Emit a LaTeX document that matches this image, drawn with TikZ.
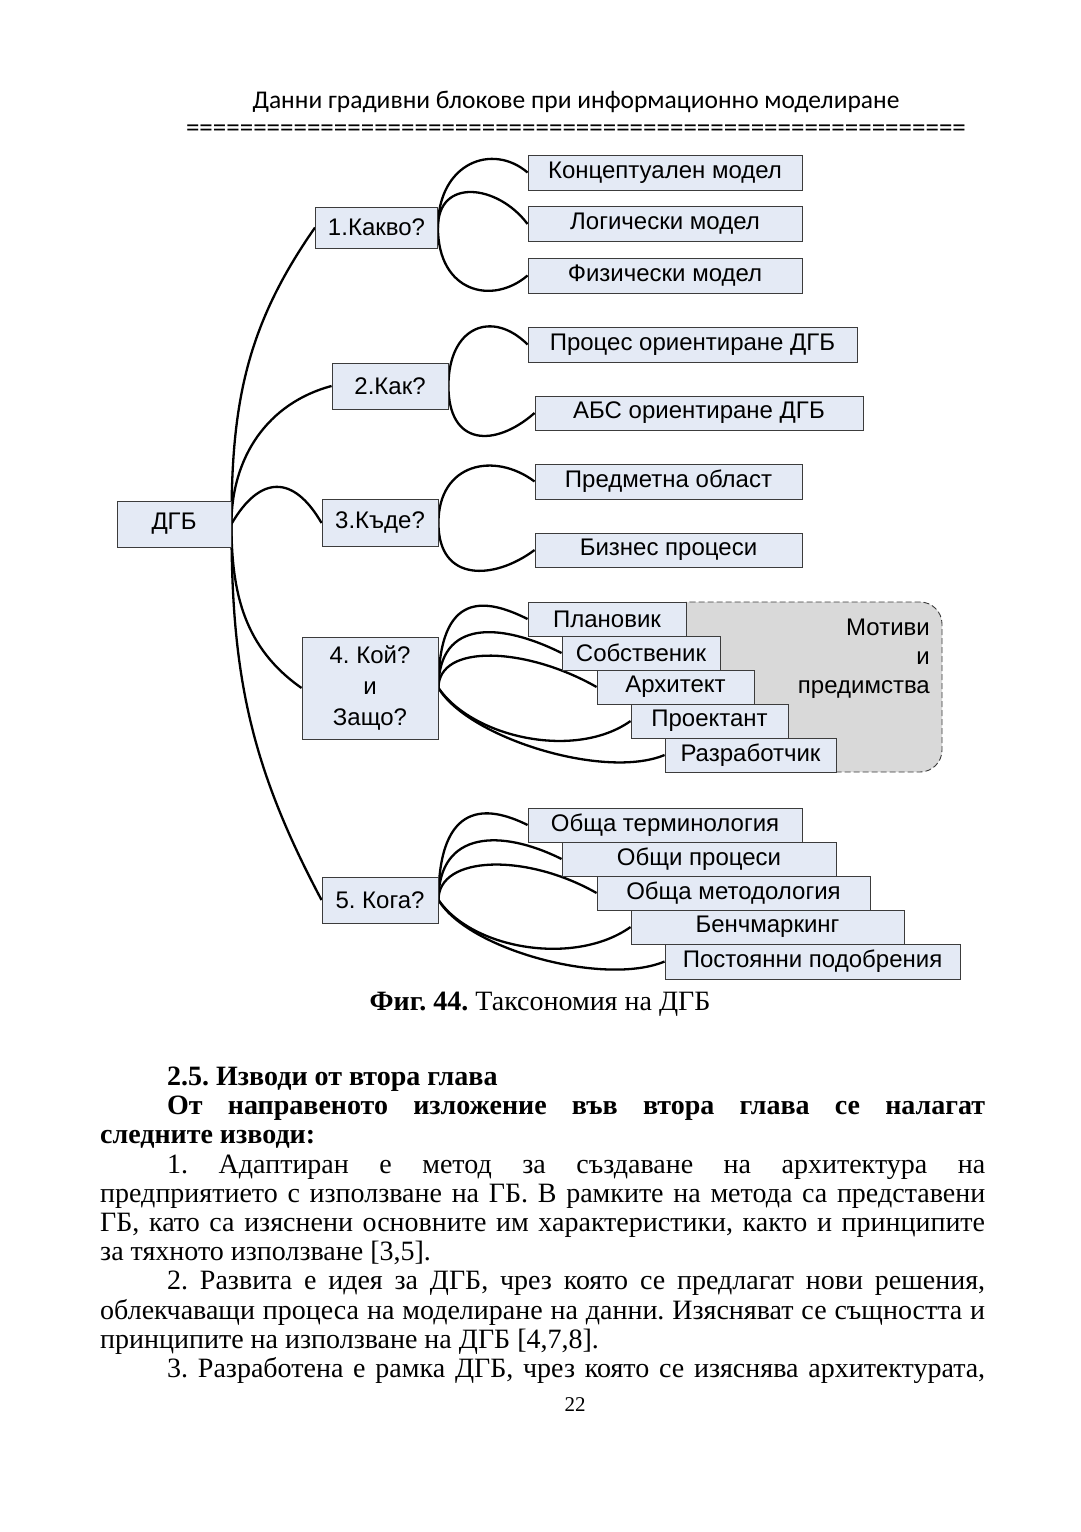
\documentclass[tikz,border=0pt]{standalone}
\usepackage{fontspec}
\setmainfont{Liberation Serif}
\newfontfamily\arialf{Liberation Sans}
\newfontfamily\calf{Carlito}
\pgfdeclarelayer{bg}
\pgfdeclarelayer{mid}
\pgfsetlayers{bg,mid,main}
\definecolor{boxfill}{RGB}{228,234,245}
\definecolor{boxline}{RGB}{60,60,60}
\definecolor{panel}{RGB}{217,217,217}
\tikzset{
  box/.style={draw=boxline, fill=boxfill, line width=0.9pt, inner sep=0pt,
    font=\arialf\fontsize{24}{31}\selectfont, align=center},
  link/.style={line width=2.3pt, black},
  bodyline/.style={inner sep=0pt, anchor=base west, font=\fontsize{28}{29}\selectfont},
}
\frenchspacing
\begin{document}
\begin{tikzpicture}[x=1pt,y=1pt]
\useasboundingbox (0,0) rectangle (1080,-1532);
\begin{pgfonlayer}{bg}
\fill[white] (0,0) rectangle (1080,-1532);
\draw[fill=panel, draw=boxline, dashed, dash pattern=on 6pt off 3pt, rounded corners=22pt, line width=0.9pt] (668,-602) rectangle (942,-772);
\end{pgfonlayer}

% header
\node[inner sep=0pt, anchor=base, font=\calf\fontsize{25.5}{30}\selectfont] (hdr) at (576,-108) {Данни градивни блокове при информационно моделиране};
\node[inner sep=0pt, anchor=base, font=\calf\fontsize{27}{30}\selectfont] (eq) at (576,-136) {==========================================================};

% boxes
\node[box, minimum width=114pt, minimum height=46pt] (d) at (174,-524) {ДГБ};
\node[box, minimum width=122pt, minimum height=41pt] (q1) at (376.5,-227.5) {1.Какво?};
\node[box, minimum width=116pt, minimum height=46pt] (q2) at (390,-386) {2.Как?};
\node[box, minimum width=116pt, minimum height=47pt] (q3) at (380,-523) {3.Къде?};
\node[box, minimum width=136pt, minimum height=102pt] (q4) at (370,-688) {4. Кой?\\и\\Защо?};
\node[box, minimum width=116pt, minimum height=46pt] (q5) at (380,-900) {5. Кога?};

\node[box, minimum width=274pt, minimum height=35pt] (c1) at (665,-172.5) {Концептуален модел};
\node[box, minimum width=274pt, minimum height=35pt] (c2) at (665,-224) {Логически модел};
\node[box, minimum width=274pt, minimum height=35pt] (c3) at (665,-275.5) {Физически модел};

\node[box, minimum width=329pt, minimum height=35pt] (p1) at (692.5,-344.5) {Процес ориентиране ДГБ};
\node[box, minimum width=328pt, minimum height=34pt] (p2) at (699,-413) {АБС ориентиране ДГБ};

\node[box, minimum width=267pt, minimum height=35pt] (w1) at (668.5,-481.5) {Предметна област};
\node[box, minimum width=267pt, minimum height=34pt] (w2) at (668.5,-550) {Бизнес процеси};

\node[box, minimum width=158pt, minimum height=34pt] (r1) at (607,-619) {Плановик};
\node[box, minimum width=158pt, minimum height=34pt] (r2) at (641,-653) {Собственик};
\node[box, minimum width=157pt, minimum height=34pt] (r3) at (675.5,-687) {Архитект};
\node[box, minimum width=157pt, minimum height=34pt] (r4) at (709.5,-721) {Проектант};
\node[box, minimum width=171pt, minimum height=34pt] (r5) at (750.5,-755) {Разработчик};
\node[inner sep=0pt, anchor=east, align=right, font=\arialf\fontsize{24}{29}\selectfont] (mot) at (930,-659) {Мотиви\\и\\предимства};

\node[box, minimum width=274pt, minimum height=34pt] (t1) at (665,-825) {Обща терминология};
\node[box, minimum width=274pt, minimum height=34pt] (t2) at (699,-859) {Общи процеси};
\node[box, minimum width=273pt, minimum height=34pt] (t3) at (733.5,-893) {Обща методология};
\node[box, minimum width=273pt, minimum height=34pt] (t4) at (767.5,-927) {Бенчмаркинг};
\node[box, minimum width=295pt, minimum height=35pt] (t5) at (812.5,-961.5) {Постоянни подобрения};

% connectors
\begin{pgfonlayer}{mid}
\draw[link] (d.east) to[out=90,in=235] (q1.west);
\draw[link] (d.east) to[out=90,in=195] (q2.west);
\draw[link] (d.east) to[out=60,in=120,looseness=1.6] (q3.west);
\draw[link] (d.east) to[out=-90,in=145] (q4.west);
\draw[link] (d.east) to[out=-90,in=118] (q5.west);

\draw[link] (q1.east) .. controls +(0,65) and +(-35,30) .. (c1.west);
\draw[link] (q1.east) .. controls +(0,50) and +(-30,40) .. (c2.west);
\draw[link] (q1.east) .. controls +(0,-65) and +(-35,-30) .. (c3.west);

\draw[link] (q2.east) .. controls +(0,60) and +(-35,35) .. (p1.west);
\draw[link] (q2.east) .. controls +(0,-60) and +(-40,-35) .. (p2.west);

\draw[link] (q3.east) .. controls +(0,60) and +(-40,30) .. (w1.west);
\draw[link] (q3.east) .. controls +(0,-60) and +(-40,-30) .. (w2.west);

\draw[link] (q4.east) .. controls +(0,100) and +(-40,20) .. (r1.west);
\draw[link] (q4.east) .. controls +(0,70) and +(-60,30) .. (r2.west);
\draw[link] (q4.east) .. controls +(0,45) and +(-70,40) .. (r3.west);
\draw[link] (q4.east) .. controls +(35,-50) and +(-55,-39) .. (r4.west);
\draw[link] (q4.east) .. controls +(30,-50) and +(-60,-25) .. (r5.west);

\draw[link] (q5.east) .. controls +(0,100) and +(-40,20) .. (t1.west);
\draw[link] (q5.east) .. controls +(0,70) and +(-60,30) .. (t2.west);
\draw[link] (q5.east) .. controls +(0,45) and +(-70,40) .. (t3.west);
\draw[link] (q5.east) .. controls +(35,-50) and +(-55,-39) .. (t4.west);
\draw[link] (q5.east) .. controls +(30,-50) and +(-60,-25) .. (t5.west);
\end{pgfonlayer}

% caption
\node[inner sep=0pt, anchor=base, font=\fontsize{28}{30}\selectfont] (cap) at (540,-1010) {\textbf{Фиг. 44.} Таксономия на ДГБ};

% body text
\node[bodyline] (l1) at (167,-1085) {\textbf{2.5. Изводи от втора глава}};
\node[bodyline] (l2) at (167,-1114) {\makebox[818pt][s]{\textbf{От направеното изложение във втора глава се налагат}}};
\node[bodyline] (l3) at (100,-1143) {\textbf{следните изводи:}};
\node[bodyline] (l4) at (167,-1173) {\makebox[818pt][s]{1. Адаптиран е метод за създаване на архитектура на}};
\node[bodyline] (l5) at (100,-1202) {\makebox[885pt][s]{предприятието с използване на ГБ. В рамките на метода са представени}};
\node[bodyline] (l6) at (100,-1231) {\makebox[885pt][s]{ГБ, като са изяснени основните им характеристики, както и принципите}};
\node[bodyline] (l7) at (100,-1260) {за тяхното използване [3,5].};
\node[bodyline] (l8) at (167,-1289) {\makebox[818pt][s]{2. Развита е идея за ДГБ, чрез която се предлагат нови решения,}};
\node[bodyline] (l9) at (100,-1319) {\makebox[885pt][s]{облекчаващи процеса на моделиране на данни. Изясняват се същността и}};
\node[bodyline] (l10) at (100,-1348) {принципите на използване на ДГБ [4,7,8].};
\node[bodyline] (l11) at (167,-1377) {\makebox[818pt][s]{3. Разработена е рамка ДГБ, чрез която се изяснява архитектурата,}};
\node[inner sep=0pt, anchor=base, font=\fontsize{21}{24}\selectfont] (pg) at (575,-1411) {22};
\end{tikzpicture}
\end{document}
